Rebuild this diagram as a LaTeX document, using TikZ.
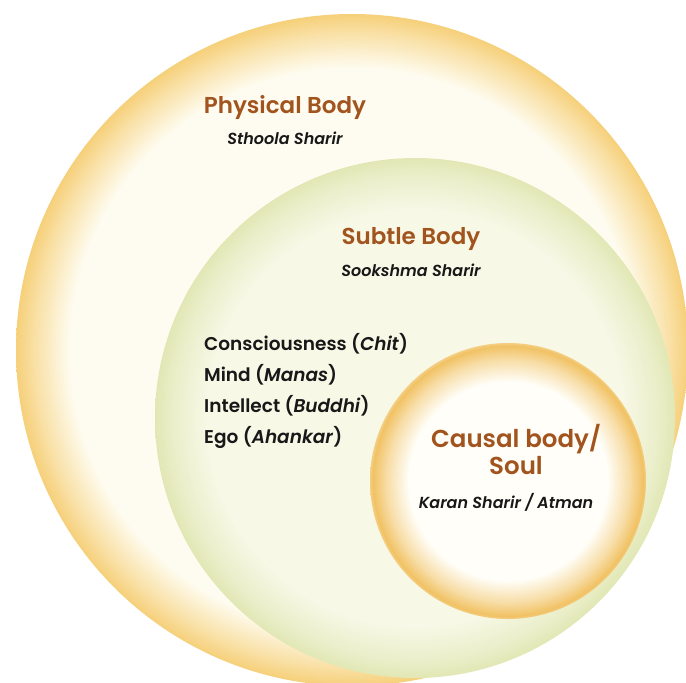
\documentclass[tikz,border=0pt]{standalone}
\usepackage{fontspec}
\setmainfont{Poppins}[BoldFont={Poppins SemiBold}, BoldItalicFont={Poppins SemiBold Italic}]
\usepackage{xcolor}
\usetikzlibrary{positioning}
\definecolor{cGold}{RGB}{246,208,122}
\definecolor{cCream}{RGB}{254,252,240}
\definecolor{cSage}{RGB}{225,231,180}
\definecolor{cPale}{RGB}{247,248,230}
\definecolor{cAmber}{RGB}{241,194,100}
\definecolor{cIvory}{RGB}{255,254,248}
\definecolor{cBrown}{RGB}{162,84,30}
\definecolor{cInk}{RGB}{24,24,24}
\pgfdeclareradialshading{physshade}{\pgfpointorigin}{color(0bp)=(cCream); color(21bp)=(cCream); color(23.5bp)=(cGold!60!cCream); color(25bp)=(cGold); color(50bp)=(cGold)}
\pgfdeclareradialshading{subtleshade}{\pgfpointorigin}{color(0bp)=(cPale); color(20bp)=(cPale); color(23.5bp)=(cSage!60!cPale); color(25bp)=(cSage); color(50bp)=(cSage)}
\pgfdeclareradialshading{causalshade}{\pgfpointorigin}{color(0bp)=(cIvory); color(18bp)=(cIvory); color(22bp)=(cAmber!55!cIvory); color(24.5bp)=(cAmber); color(25bp)=(cAmber!80!white); color(50bp)=(cAmber)}
\tikzset{
	heading/.style ={text=cBrown, font=\fontsize{23}{27}\selectfont\bfseries, inner sep=1pt},
	sanskrit/.style={text=cInk, font=\fontsize{16}{19}\selectfont\bfseries\itshape, inner sep=1pt},
	faculty/.style ={text=cInk, font=\fontsize{18.5}{21}\selectfont\bfseries, anchor=west, inner sep=1pt},
}
\begin{document}
\begin{tikzpicture}[x=1pt, y=-1pt]
	\clip (0,0) rectangle (686,683);
	\fill[white] (0,0) rectangle (686,683);
	% the three bodies
	\shade[shading=physshade] (352,350) circle[radius=336pt];
	\shade[shading=subtleshade] (415,418) circle[radius=260pt];
	\shade[shading=causalshade] (508,481) circle[radius=138pt];
	% labels
	\node[heading] (phys) at (285,107) {Physical Body};
	\node[sanskrit, below=11pt of phys] (sthoola) {Sthoola Sharir};
	\node[heading] (subtle) at (411,239) {Subtle Body};
	\node[sanskrit, below=11pt of subtle] (sookshma) {Sookshma Sharir};
	\node[faculty] (chit) at (203,344) {Consciousness (\textit{Chit})};
	\node[faculty, below=31pt of chit.west, anchor=west] (manas) {Mind (\textit{Manas})};
	\node[faculty, below=31pt of manas.west, anchor=west] (buddhi) {Intellect (\textit{Buddhi})};
	\node[faculty, below=31pt of buddhi.west, anchor=west] (ahankar) {Ego (\textit{Ahankar})};
	\node[heading, font=\fontsize{24.5}{27}\selectfont\bfseries, align=center] (causal) at (516,450) {Causal body/\\Soul};
	\node[sanskrit, below=16pt of causal, xshift=-10pt] (karan) {Karan Sharir / Atman};
\end{tikzpicture}
\end{document}
